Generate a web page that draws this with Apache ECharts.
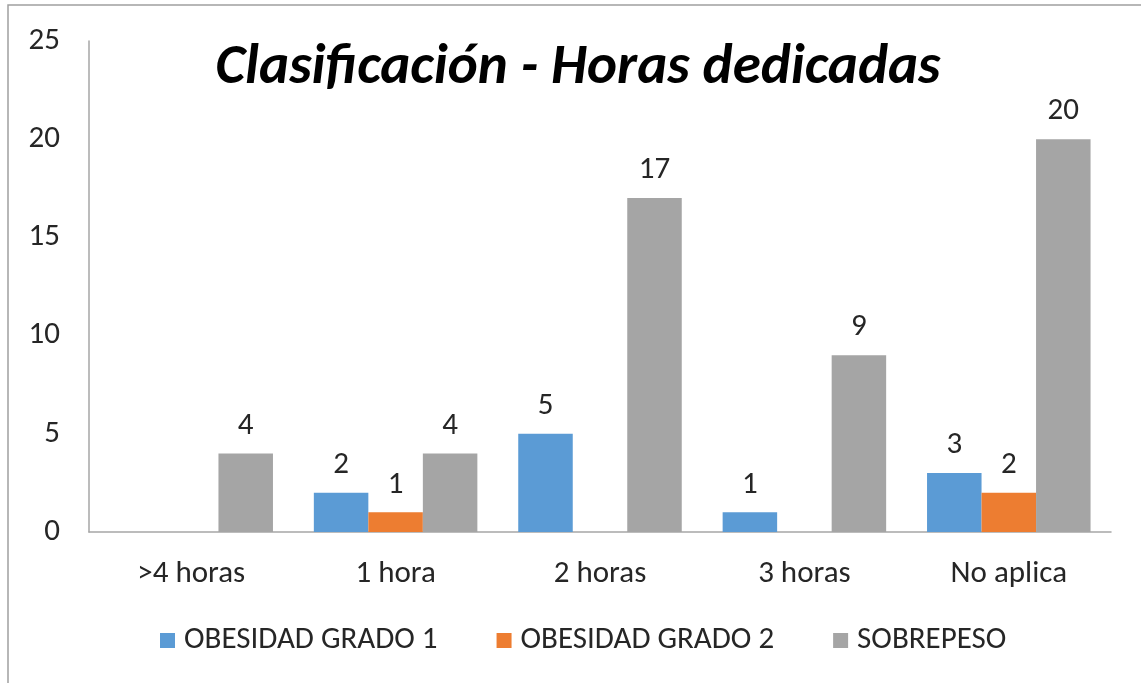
<!DOCTYPE html>
<html>
<head>
<meta charset="utf-8">
<script src="https://cdn.jsdelivr.net/npm/echarts@6/dist/echarts.min.js"></script>
<style>
  html, body { margin: 0; padding: 0; background: #fff; }
  #main { width: 1141px; height: 683px; }
</style>
</head>
<body>
<div id="main"></div>
<script>
// datos
var categorias = ['>4 horas', '1 hora', '2 horas', '3 horas', 'No aplica'];
var obesidad1 = [null, 2, 5, 1, 3];
var obesidad2 = [null, 1, null, null, 2];
var sobrepeso = [4, 4, 17, 9, 20];
var yTicks = [0, 5, 10, 15, 20, 25];

var fuente = 'Carlito, "Liberation Sans", Arial, sans-serif';
var colorTexto = '#262626';
var tam = 31;

function serie(nombre, datos, color) {
    return {
        name: nombre,
        type: 'bar',
        data: datos,
        barGap: '0%',
        barCategoryGap: '20%',
        itemStyle: { color: color },
        label: {
            show: true,
            position: 'top',
            distance: 12,
            color: colorTexto,
            fontFamily: fuente,
            fontSize: tam
        }
    };
}

var chart = echarts.init(document.getElementById('main'));
chart.setOption({
    animation: false,
    backgroundColor: '#fff',
    title: {
        text: 'Clasificación - Horas dedicadas',
        left: 573,
        textAlign: 'center',
        top: 35,
        textStyle: {
            fontFamily: fuente,
            fontSize: 57,
            fontWeight: 'bold',
            fontStyle: 'italic',
            color: '#000'
        }
    },
    // marco del grafico
    graphic: [{
        type: 'rect',
        shape: { x: 8, y: 5, width: 1300, height: 900 },
        style: { fill: null, stroke: '#a0a0a0', lineWidth: 1.5 },
        z: 0
    }],
    legend: {
        top: 620,
        left: 155,
        itemWidth: 15,
        itemHeight: 15,
        itemGap: 59,
        icon: 'rect',
        textStyle: { fontFamily: fuente, fontSize: tam, color: colorTexto, padding: [0, 0, 0, 4] },
        data: ['OBESIDAD GRADO 1', 'OBESIDAD GRADO 2', 'SOBREPESO']
    },
    grid: { left: 89, right: 30, top: 41, bottom: 151 },
    xAxis: {
        type: 'category',
        data: categorias,
        axisLine: { lineStyle: { color: '#a6a6a6', width: 1.5 } },
        axisTick: { show: false },
        axisLabel: { margin: 27, fontFamily: fuente, fontSize: tam, color: colorTexto }
    },
    yAxis: {
        type: 'value',
        min: yTicks[0],
        max: yTicks[yTicks.length - 1],
        interval: 5,
        splitLine: { show: false },
        axisLine: { show: true, lineStyle: { color: '#a6a6a6', width: 1.5 } },
        axisTick: { show: false },
        axisLabel: { margin: 29, fontFamily: fuente, fontSize: tam, color: colorTexto }
    },
    series: [
        serie('OBESIDAD GRADO 1', obesidad1, '#5b9bd5'),
        serie('OBESIDAD GRADO 2', obesidad2, '#ed7d31'),
        serie('SOBREPESO', sobrepeso, '#a5a5a5')
    ]
});
</script>
</body>
</html>
